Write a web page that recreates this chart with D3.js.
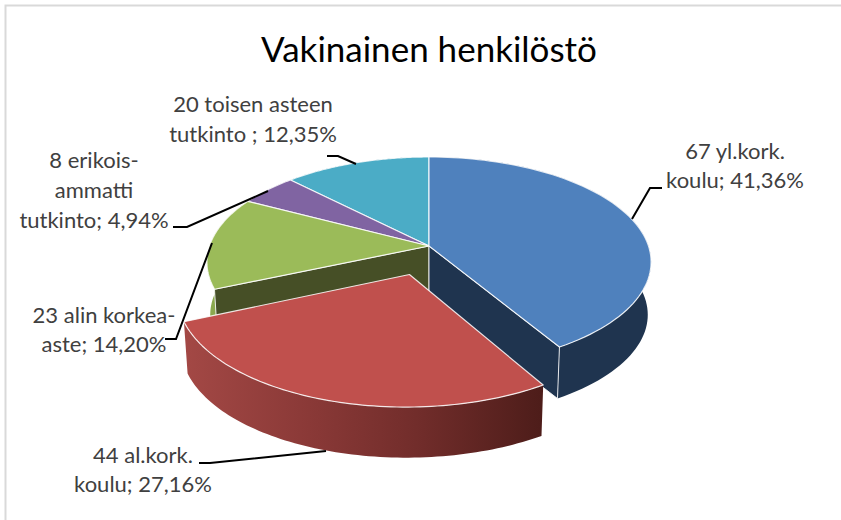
<!DOCTYPE html>
<html>
<head>
<meta charset="utf-8">
<script src="https://cdn.jsdelivr.net/npm/d3@7"></script>
<style>
html, body { margin: 0; padding: 0; background: #fff; }
svg { display: block; }
text { font-family: Lato, "Open Sans", sans-serif; }
</style>
</head>
<body>
<div class="container"></div>
<script>
var chartTitle = 'Vakinainen henkilöstö';
var counts = [67, 44, 23, 8, 20];
var labelLines = [
	['67 yl.kork.', 'koulu; 41,36%'],
	['44 al.kork.', 'koulu; 27,16%'],
	['23 alin korkea-', 'aste; 14,20%'],
	['8 erikois-', 'ammatti', 'tutkinto; 4,94%'],
	['20 toisen asteen', 'tutkinto ; 12,35%']
];
var topColors = ['#4f81bd', '#c0504d', '#9bbb59', '#8064a2', '#4bacc6'];
var wallColors = ['#1f344f', '#8a3836', '#8aa84e', '#594671', '#33788a'];
var cutColors = ['#1f344f', '#4f1e1b', '#464f26', '#3c2f4d', '#22505d'];
var explode = [0, 0.28, 0, 0, 0];

var width = 841;
var height = 520;

// where the labels and their leader lines sit
var labelX = [735, 143, 104, 94, 253];
var labelY = [159, 463, 323, 168, 112];
var lineStep = [29, 29, 29, 30, 30];
var leaders = [
	[[632, 219], [650, 188], [662, 188]],
	[[326, 451], [210, 463], [199, 463]],
	[[212, 243], [176, 339], [165, 339]],
	[[268, 191], [187, 227], [173, 227]],
	[[356, 164], [338, 156], [327, 156]]
];

// the tilted disc: u runs left to right, v runs from back to front
var perspective = 0.1525;
var depth = 53;
var shrink = 0.985;
var xScale = d3.scaleLinear().domain([-1, 1]).range([429 - 219.5, 429 + 219.5]);
var yScale = d3.scaleLinear().domain([-1, 1]).range([246 - 102.6, 246 + 102.6]);

var project = function(u, v, bottom) {
	var s = 1 / (1 - perspective * v);
	var k = bottom ? shrink : 1;
	return [xScale(u * s * k), yScale(v * s * k) + (bottom ? depth : 0)];
}

var rimPoint = function(a, d, bottom) {
	var mid = (d.startAngle + d.endAngle) / 2;
	var e = explode[d.index];
	return project(Math.sin(a) + e * Math.sin(mid), -Math.cos(a) - e * Math.cos(mid), bottom);
}

var apexPoint = function(d, bottom) {
	var mid = (d.startAngle + d.endAngle) / 2;
	var e = explode[d.index];
	return project(e * Math.sin(mid), -e * Math.cos(mid), bottom);
}

var rim = function(d, bottom) {
	var steps = 80;
	return d3.range(steps + 1).map(function(i) {
		return rimPoint(d.startAngle + (d.endAngle - d.startAngle) * i / steps, d, bottom);
	});
}

var line = d3.line();
var shape = function(points) { return line(points) + 'Z'; }

var draw = function() {
	var svg = d3.select('.container').append('svg')
		.attr('width', width)
		.attr('height', height);

	var gradient = svg.append('defs').append('linearGradient')
		.attr('id', 'redWall')
		.attr('gradientUnits', 'userSpaceOnUse')
		.attr('x1', 185).attr('x2', 540).attr('y1', 0).attr('y2', 0);
	gradient.append('stop').attr('offset', '0').attr('stop-color', '#a34845');
	gradient.append('stop').attr('offset', '0.35').attr('stop-color', '#8a3937');
	gradient.append('stop').attr('offset', '0.65').attr('stop-color', '#722d2b');
	gradient.append('stop').attr('offset', '1').attr('stop-color', '#4e1d1a');

	// chart frame, only the left and top edges are in the picture
	svg.append('path')
		.attr('d', line([[5.5, height], [5.5, 5.5], [width, 5.5]]))
		.attr('fill', 'none')
		.attr('stroke', '#d9d9d9')
		.attr('stroke-width', 2);

	svg.append('text')
		.attr('x', 429)
		.attr('y', 62)
		.attr('text-anchor', 'middle')
		.attr('font-size', 35)
		.attr('fill', '#000')
		.text(chartTitle);

	var slices = d3.pie().sort(null)(counts);

	var order = [4, 3, 2, 0, 1];
	var pieGroup = svg.append('g').classed('pieGroup', true);

	order.forEach(function(i) {
		var d = slices[i];
		var g = pieGroup.append('g').classed('slice', true);

		// outer wall
		g.append('path')
			.attr('d', shape(rim(d, false).concat(rim(d, true).reverse())))
			.attr('fill', i == 1 ? 'url(#redWall)' : wallColors[i]);

		// cut face: blue shows its end, green its start
		var cutAngle = i == 0 ? d.endAngle : d.startAngle;
		if (i == 0 || i == 2) {
			g.append('path')
				.attr('d', shape([apexPoint(d, false), rimPoint(cutAngle, d, false), rimPoint(cutAngle, d, true), apexPoint(d, true)]))
				.attr('fill', cutColors[i])
				.attr('stroke', '#fff')
				.attr('stroke-opacity', 0.85)
				.attr('stroke-width', 1);
		}

		// top face
		g.append('path')
			.attr('d', shape([apexPoint(d, false)].concat(rim(d, false))))
			.attr('fill', topColors[i])
			.attr('stroke', '#fff')
			.attr('stroke-opacity', 0.85)
			.attr('stroke-width', 1.2)
			.attr('stroke-linejoin', 'round');
	});

	svg.append('g').selectAll('path').data(leaders).enter()
		.append('path')
		.attr('d', function(d) { return line(d); })
		.attr('fill', 'none')
		.attr('stroke', '#000')
		.attr('stroke-width', 2);

	labelLines.forEach(function(lines, i) {
		svg.append('text')
			.attr('text-anchor', 'middle')
			.attr('font-size', 22)
			.attr('fill', '#404040')
			.selectAll('tspan').data(lines).enter()
			.append('tspan')
			.attr('x', labelX[i])
			.attr('y', function(d, j) { return labelY[i] + j * lineStep[i]; })
			.text(function(d) { return d; });
	});
}

window.onload = draw;
</script>
</body>
</html>
